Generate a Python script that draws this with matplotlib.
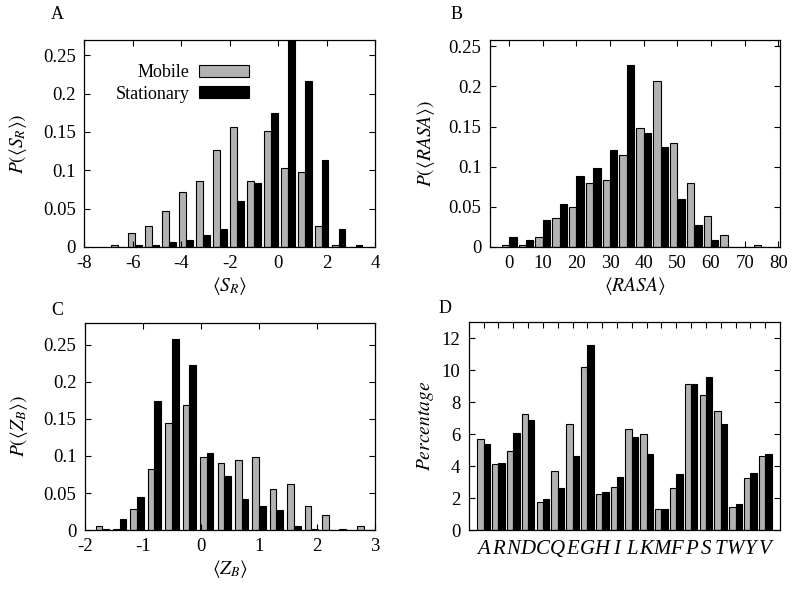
import matplotlib

matplotlib.use("Agg")
import matplotlib.pyplot as plt  # noqa: E402
import numpy as np  # noqa: E402

plt.rcParams["font.family"] = "Liberation Serif"
plt.rcParams["mathtext.fontset"] = "stix"
plt.rcParams["axes.unicode_minus"] = False

GREY = "#b2b2b2"

# panel A: <S_R>
sr_bins = [-6.6, -5.9, -5.2, -4.5, -3.8, -3.1, -2.4, -1.7, -1.0, -0.3, 0.4, 1.1, 1.8, 2.5, 3.2]
sr_mobile = [0.003, 0.018, 0.027, 0.047, 0.071, 0.086, 0.127, 0.157, 0.086, 0.151,
             0.103, 0.098, 0.027, 0.003, 0.0]
sr_stationary = [0.0, 0.003, 0.003, 0.006, 0.009, 0.015, 0.024, 0.060, 0.083, 0.175,
                 0.300, 0.216, 0.113, 0.024, 0.003]

# panel B: <RASA>
rasa_bins = [0, 5, 10, 15, 20, 25, 30, 35, 40, 45, 50, 55, 60, 65, 70, 75]
rasa_mobile = [0.002, 0.002, 0.012, 0.036, 0.050, 0.080, 0.083, 0.115, 0.148, 0.207,
               0.130, 0.080, 0.039, 0.015, 0.0, 0.003]
rasa_stationary = [0.012, 0.009, 0.033, 0.053, 0.088, 0.098, 0.121, 0.227, 0.142, 0.124,
                   0.060, 0.027, 0.009, 0.0, 0.0, 0.0]

# panel C: <Z_B>
zb_bins = [-1.7, -1.4, -1.1, -0.8, -0.5, -0.2, 0.1, 0.4, 0.7, 1.0, 1.3, 1.6, 1.9, 2.2, 2.5, 2.8]
zb_mobile = [0.0055, 0.002, 0.029, 0.083, 0.145, 0.168, 0.098, 0.091, 0.094, 0.098,
             0.055, 0.062, 0.033, 0.020, 0.002, 0.0055]
zb_stationary = [0.002, 0.0145, 0.044, 0.174, 0.257, 0.222, 0.104, 0.073, 0.042, 0.033,
                 0.027, 0.0055, 0.002, 0.0, 0.0, 0.0]

# panel D: amino-acid composition
residues = ["A", "R", "N", "D", "C", "Q", "E", "G", "H", "I",
            "L", "K", "M", "F", "P", "S", "T", "W", "Y", "V"]
aa_mobile = [5.70, 4.15, 4.96, 7.25, 1.78, 3.71, 6.62, 10.20, 2.24, 2.72,
             6.35, 6.03, 1.30, 2.64, 9.13, 8.48, 7.46, 1.44, 3.29, 4.67]
aa_stationary = [5.40, 4.23, 6.07, 6.91, 1.97, 2.66, 4.67, 11.60, 2.41, 3.31,
                 5.84, 4.75, 1.30, 3.54, 9.13, 9.59, 6.64, 1.63, 3.60, 4.77]

prob_ticks = [0, 0.05, 0.1, 0.15, 0.2, 0.25]
prob_labels = ["0", "0.05", "0.1", "0.15", "0.2", "0.25"]


def style_axes(ax):
    ax.tick_params(direction="in", length=4, width=0.8, top=True, right=True,
                   labelsize=13.5, pad=6)
    for s in ax.spines.values():
        s.set_linewidth(0.9)


def paired_bars(ax, x, mob, sta, width):
    x = np.asarray(x, dtype=float)
    m = ax.bar(x - width / 2, mob, width, color=GREY, edgecolor="black", linewidth=0.8,
               label="Mobile")
    s = ax.bar(x + width / 2, sta, width, color="black", edgecolor="black", linewidth=0.8,
               label="Stationary")
    return m, s


fig = plt.figure(figsize=(8, 5.95), dpi=100)

# A
ax = fig.add_axes([0.105, 0.585, 0.364, 0.348])
h_mob, h_sta = paired_bars(ax, sr_bins, sr_mobile, sr_stationary, 0.275)
ax.set_xlim(-8, 4)
ax.set_ylim(0, 0.27)
ax.set_xticks([-8, -6, -4, -2, 0, 2, 4])
ax.set_yticks(prob_ticks)
ax.set_yticklabels(prob_labels)
style_axes(ax)
ax.set_xlabel(r"$\langle S_R\rangle$", fontsize=14, labelpad=2)
ax.set_ylabel(r"$P(\langle S_R\rangle)$", fontsize=14, labelpad=10)
# one legend per entry so that the texts line up on the right, as in the original
leg_kw = dict(loc="center right", frameon=False, markerfirst=False, fontsize=13,
              handlelength=2.75, handleheight=0.66, borderaxespad=0, borderpad=0,
              handletextpad=0.55)
leg1 = ax.legend([h_mob], ["Mobile"], bbox_to_anchor=(0.567, 0.84), **leg_kw)
ax.add_artist(leg1)
ax.legend([h_sta], ["Stationary"], bbox_to_anchor=(0.567, 0.738), **leg_kw)

# B
ax = fig.add_axes([0.612, 0.585, 0.363, 0.348])
paired_bars(ax, rasa_bins, rasa_mobile, rasa_stationary, 2.2)
ax.set_xlim(-5.8, 80.5)
ax.set_ylim(0, 0.258)
ax.set_xticks(range(0, 81, 10))
ax.set_yticks(prob_ticks)
ax.set_yticklabels(prob_labels)
style_axes(ax)
ax.set_xlabel(r"$\langle RASA\rangle$", fontsize=14, labelpad=2)
ax.set_ylabel(r"$P(\langle RASA\rangle)$", fontsize=14, labelpad=8)

# C
ax = fig.add_axes([0.106, 0.109, 0.363, 0.348])
paired_bars(ax, zb_bins, zb_mobile, zb_stationary, 0.115)
ax.set_xlim(-2, 3)
ax.set_ylim(0, 0.279)
ax.set_xticks([-2, -1, 0, 1, 2, 3])
ax.set_yticks(prob_ticks)
ax.set_yticklabels(prob_labels)
style_axes(ax)
ax.set_xlabel(r"$\langle Z_B\rangle$", fontsize=14, labelpad=2)
ax.set_ylabel(r"$P(\langle Z_B\rangle)$", fontsize=14, labelpad=10)

# D
ax = fig.add_axes([0.586, 0.109, 0.389, 0.349])
pos = np.arange(1, len(residues) + 1)
paired_bars(ax, pos, aa_mobile, aa_stationary, 0.43)
ax.set_xlim(0, 21)
ax.set_ylim(0, 13)
ax.set_xticks(pos)
ax.set_xticklabels(residues, fontstyle="italic")
ax.set_yticks(range(0, 13, 2))
style_axes(ax)
ax.tick_params(axis="x", labelsize=15, pad=7)
ax.set_ylabel(r"$Percentage$", fontsize=14, labelpad=4)

for label, x, y in [("A", 0.072, 0.975), ("B", 0.571, 0.975),
                    ("C", 0.072, 0.478), ("D", 0.556, 0.482)]:
    fig.text(x, y, label, fontsize=13, ha="center", va="center")

fig.savefig("out.png", dpi=100)
